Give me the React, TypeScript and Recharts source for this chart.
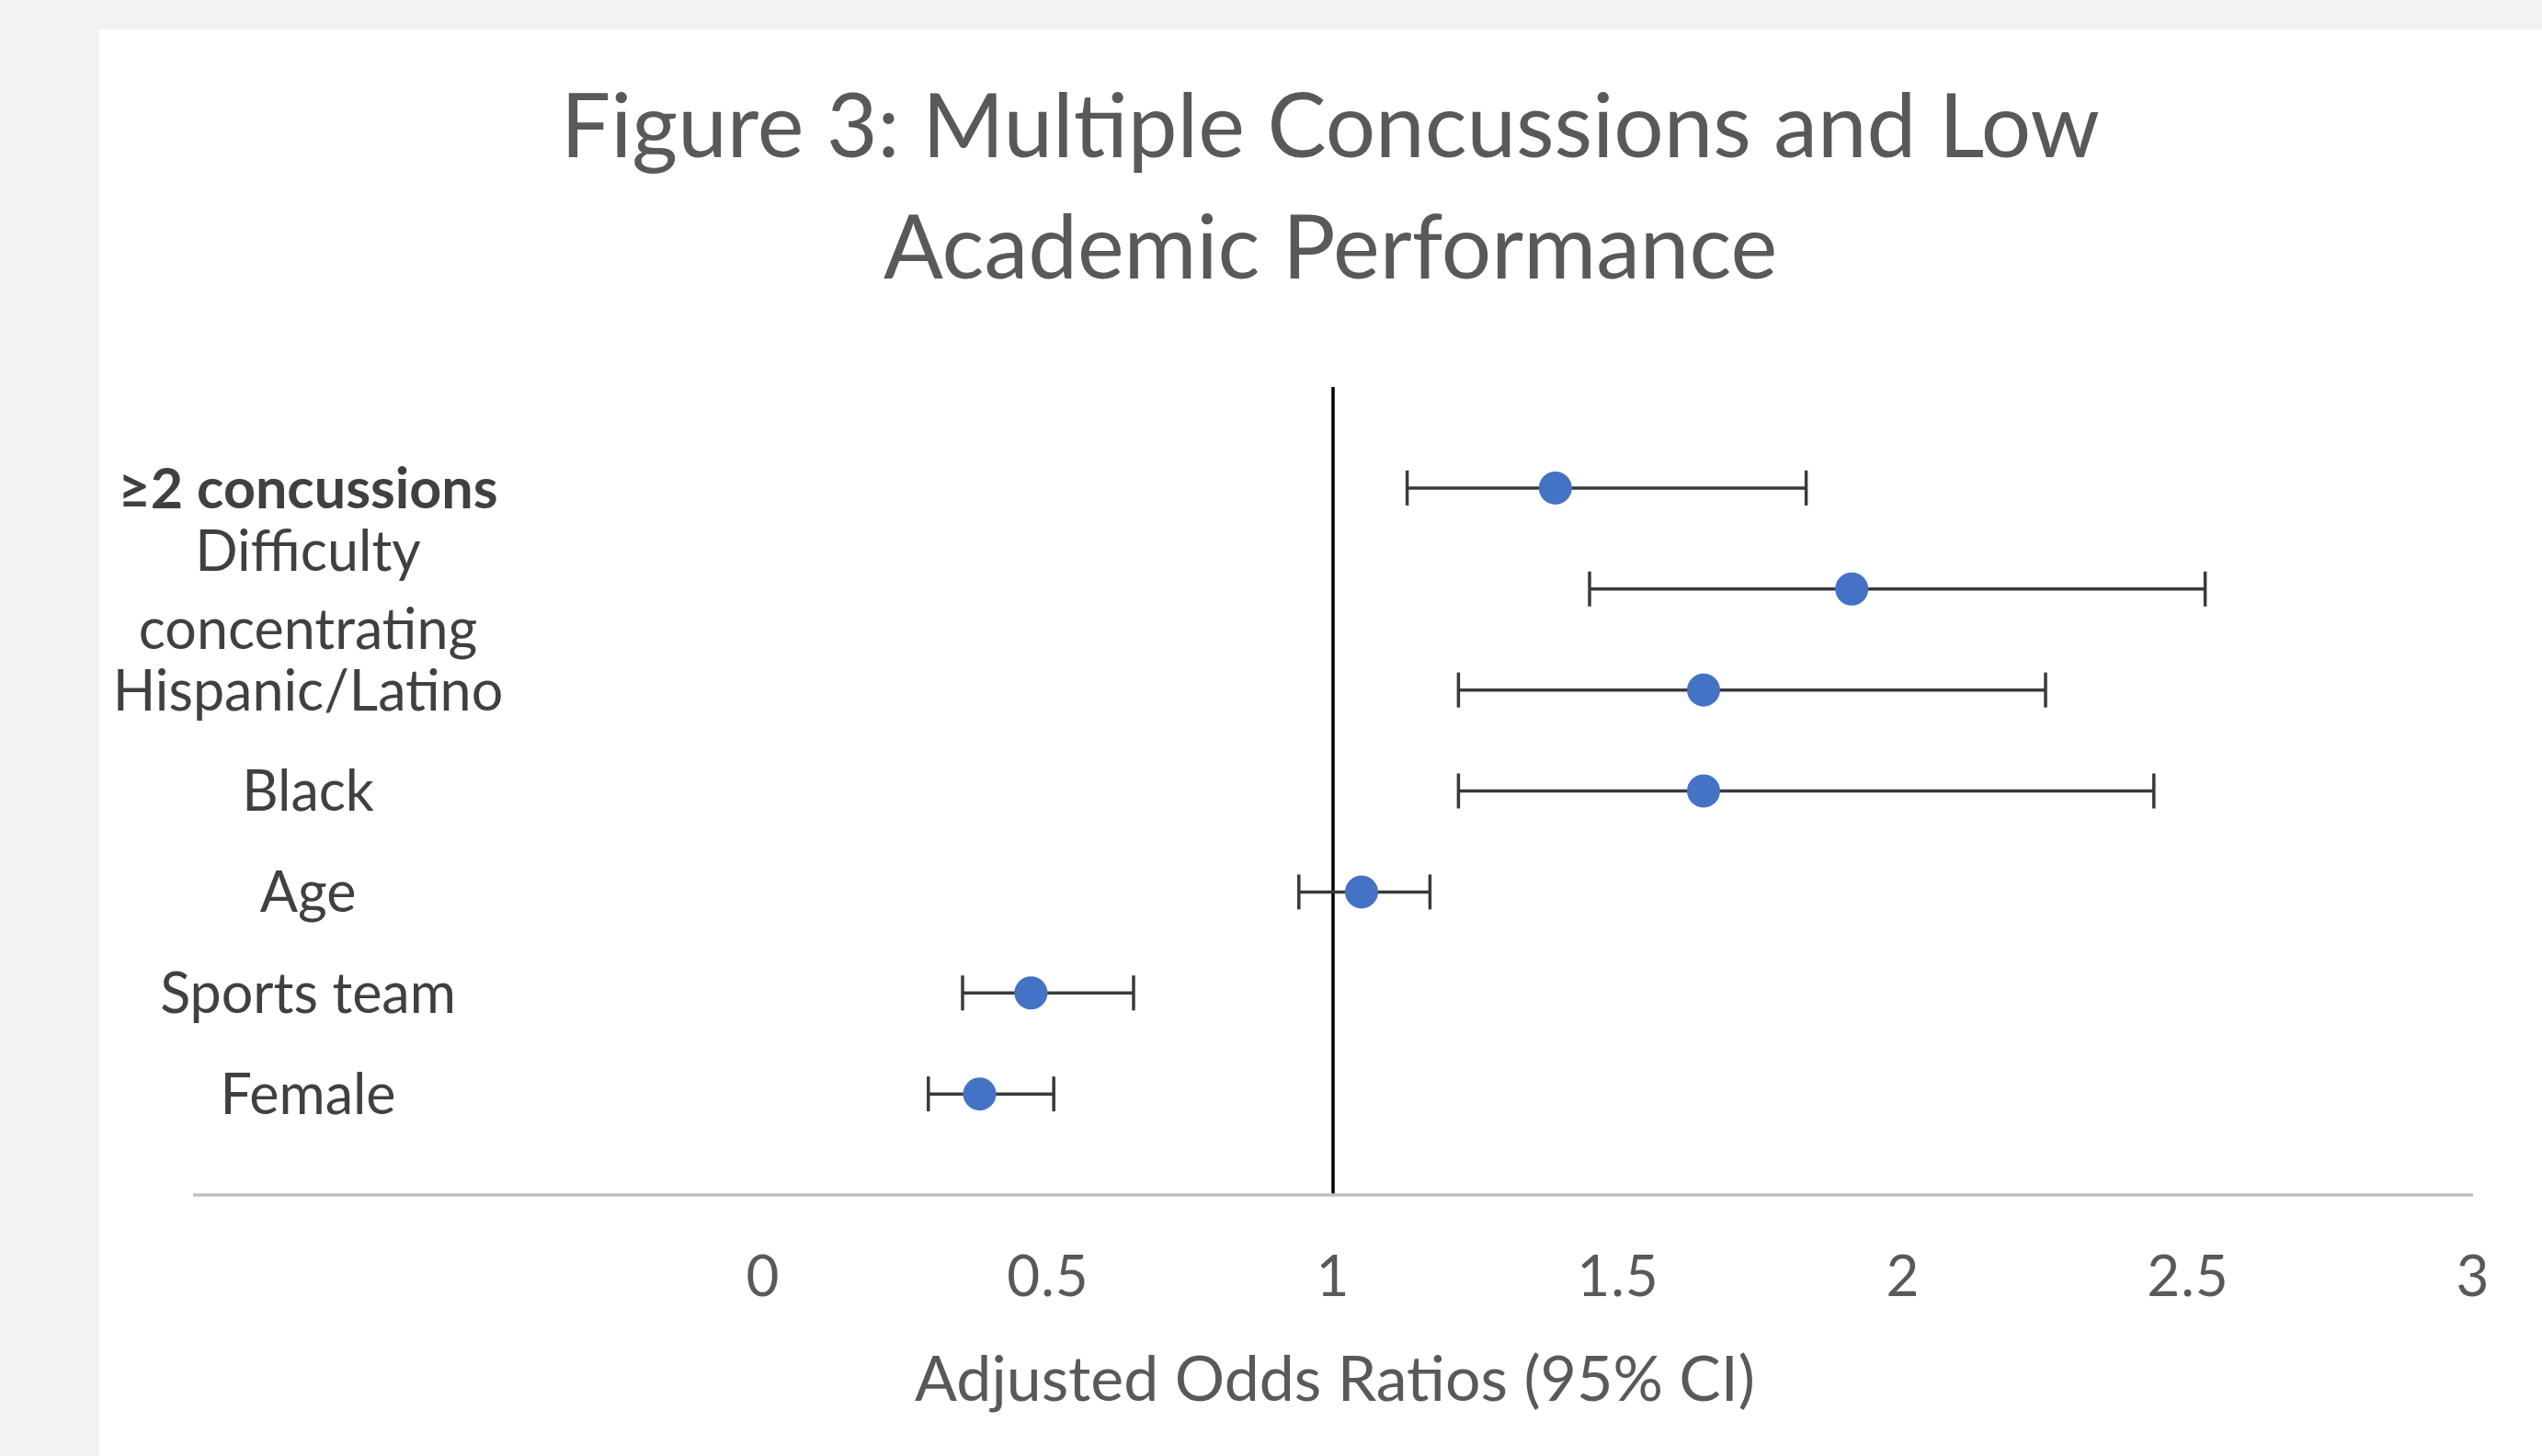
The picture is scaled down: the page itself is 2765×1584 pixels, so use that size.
import React from 'react';
import { ScatterChart, Scatter, XAxis, YAxis, ErrorBar, ReferenceLine } from 'recharts';

// forest plot data, top row first
const factors = [
  '≥2 concussions',
  'Difficulty concentrating',
  'Hispanic/Latino',
  'Black',
  'Age',
  'Sports team',
  'Female',
];
const rows = [7, 6, 5, 4, 3, 2, 1];
const oddsRatios = [1.39, 1.91, 1.65, 1.65, 1.05, 0.47, 0.38];
const ciLow = [1.13, 1.45, 1.22, 1.22, 0.94, 0.35, 0.29];
const ciHigh = [1.83, 2.53, 2.25, 2.44, 1.17, 0.65, 0.51];
const xTicks = [0, 0.5, 1, 1.5, 2, 2.5, 3];
const nullValue = 1;

const data = factors.map((name, i) => ({
  name,
  row: rows[i],
  or: oddsRatios[i],
  ci: [oddsRatios[i] - ciLow[i], ciHigh[i] - oddsRatios[i]],
}));

const W = 2765;
const H = 1584;
const FONT = 'Lato, "Open Sans", sans-serif';
const LABEL_X = 335;

const FactorTick = ({ y, payload }: any) => {
  const idx = rows.indexOf(payload.value);
  if (idx < 0) return null;
  const label = factors[idx];
  const common = {
    x: LABEL_X,
    textAnchor: 'middle' as const,
    fontFamily: FONT,
    fontSize: 61,
    fill: '#404040',
    fontWeight: idx === 0 ? 700 : 400,
  };
  if (label.length > 16) {
    const words = label.split(' ');
    return (
      <g>
        <text {...common} y={y - 42} dy="0.36em">{words[0]}</text>
        <text {...common} y={y + 43} dy="0.36em">{words.slice(1).join(' ')}</text>
      </g>
    );
  }
  return (
    <text {...common} y={y} dy="0.36em">
      {label}
    </text>
  );
};

const dot = (p: any) => <circle cx={p.cx} cy={p.cy} r={18} fill="#4472C4" />;

export default function App() {
  return (
    <div style={{ position: 'absolute', left: 0, top: 0, width: W, height: H, background: '#f2f2f2', overflow: 'hidden' }}>
      <div style={{ position: 'absolute', left: 108, top: 32, right: 0, bottom: 0, background: '#ffffff' }} />
      <div style={{ position: 'absolute', left: 0, top: 0 }}>
        <ScatterChart width={W} height={H} margin={{ top: 421, right: 75, bottom: 174, left: 209 }}>
          <XAxis
            type="number"
            dataKey="or"
            domain={[-1, 3]}
            ticks={xTicks}
            height={110}
            tickLine={false}
            tickMargin={60}
            axisLine={{ stroke: '#c0c0c0', strokeWidth: 3.5 }}
            tick={{ fontFamily: FONT, fontSize: 62, fill: '#595959', letterSpacing: 1 }}
          />
          <YAxis
            type="number"
            dataKey="row"
            domain={[0, 8]}
            ticks={rows}
            width={1}
            axisLine={false}
            tickLine={false}
            tick={(p: any) => <FactorTick {...p} />}
          />
          <ReferenceLine x={nullValue} stroke="#000000" strokeWidth={3.5} />
          <Scatter data={data} shape={dot} isAnimationActive={false}>
            <ErrorBar dataKey="ci" direction="x" width={19} stroke="#3a3a3a" strokeWidth={3.5} isAnimationActive={false} />
          </Scatter>
        </ScatterChart>
      </div>
      <svg width={W} height={H} style={{ position: 'absolute', left: 0, top: 0, pointerEvents: 'none' }}>
        <text x={1447} y={171} textAnchor="middle" fontFamily={FONT} fontSize={96} fill="#595959">
          Figure 3: Multiple Concussions and Low
        </text>
        <text x={1447} y={303} textAnchor="middle" fontFamily={FONT} fontSize={96} fill="#595959">
          Academic Performance
        </text>
        <text x={1452} y={1524} textAnchor="middle" fontFamily={FONT} fontSize={68} fill="#595959">
          Adjusted Odds Ratios (95% CI)
        </text>
      </svg>
    </div>
  );
}
